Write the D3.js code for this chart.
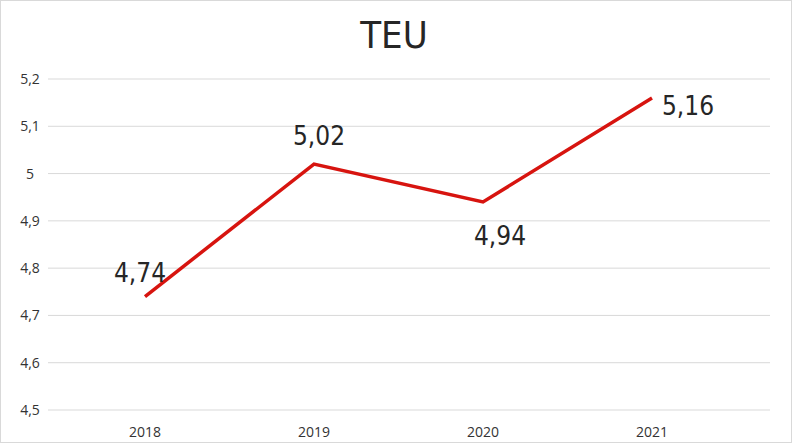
<!DOCTYPE html><html><head><meta charset="utf-8">
<script src="https://cdn.jsdelivr.net/npm/d3@7"></script>
<style>body{margin:0;background:#fff}</style></head><body>
<svg id="c" width="792" height="443"></svg>
<script>
const years=["2018","2019","2020","2021"];
const teu=[4.74,5.02,4.94,5.16];
const yTicks=[4.5,4.6,4.7,4.8,4.9,5.0,5.1,5.2];
const labelOffsets=[[-5,-24],[5,-28],[17,34],[36,8]];
const svg=d3.select("#c");
svg.append("rect").attr("x",0.5).attr("y",0.5).attr("width",791).attr("height",442).attr("fill","#fff").attr("stroke","#d9d9d9");
const x=d3.scalePoint().domain(years).range([145,652]);
const y=d3.scaleLinear().domain([4.5,5.2]).range([410,79]);
const fmt=v=>d3.format(",")(v).replace(".",",");
const cond="Liberation Sans Narrow, DejaVu Sans Condensed, sans-serif";
svg.append("g").selectAll("line").data(yTicks).join("line")
 .attr("x1",48).attr("x2",770).attr("y1",d=>y(d)).attr("y2",d=>y(d))
 .attr("stroke","#d9d9d9").attr("stroke-width",1);
svg.append("g").selectAll("text").data(yTicks).join("text")
 .attr("x",30).attr("y",d=>y(d)+5).attr("text-anchor","middle")
 .attr("font-family","Open Sans, sans-serif").attr("font-size",14).attr("fill","#333").text(d=>fmt(d));
svg.append("g").selectAll("text").data(years).join("text")
 .attr("x",d=>x(d)).attr("y",437).attr("text-anchor","middle")
 .attr("font-family","Open Sans, sans-serif").attr("font-size",14).attr("fill","#333").text(d=>d);
svg.append("path").datum(teu)
 .attr("d",d3.line().x((d,i)=>x(years[i])).y(d=>y(d)))
 .attr("fill","none").attr("stroke","#d7140f").attr("stroke-width",3.5);
svg.append("g").selectAll("text").data(teu).join("text")
 .attr("x",(d,i)=>x(years[i])+labelOffsets[i][0]).attr("y",(d,i)=>y(d)+labelOffsets[i][1]+9)
 .attr("text-anchor","middle").attr("font-family",cond)
 .attr("font-size",26).attr("fill","#262626").text(d=>fmt(d));
svg.append("text").attr("x",394).attr("y",48).attr("text-anchor","middle")
 .attr("font-family",cond).attr("font-size",38).attr("fill","#262626").text("TEU");
</script></body></html>
